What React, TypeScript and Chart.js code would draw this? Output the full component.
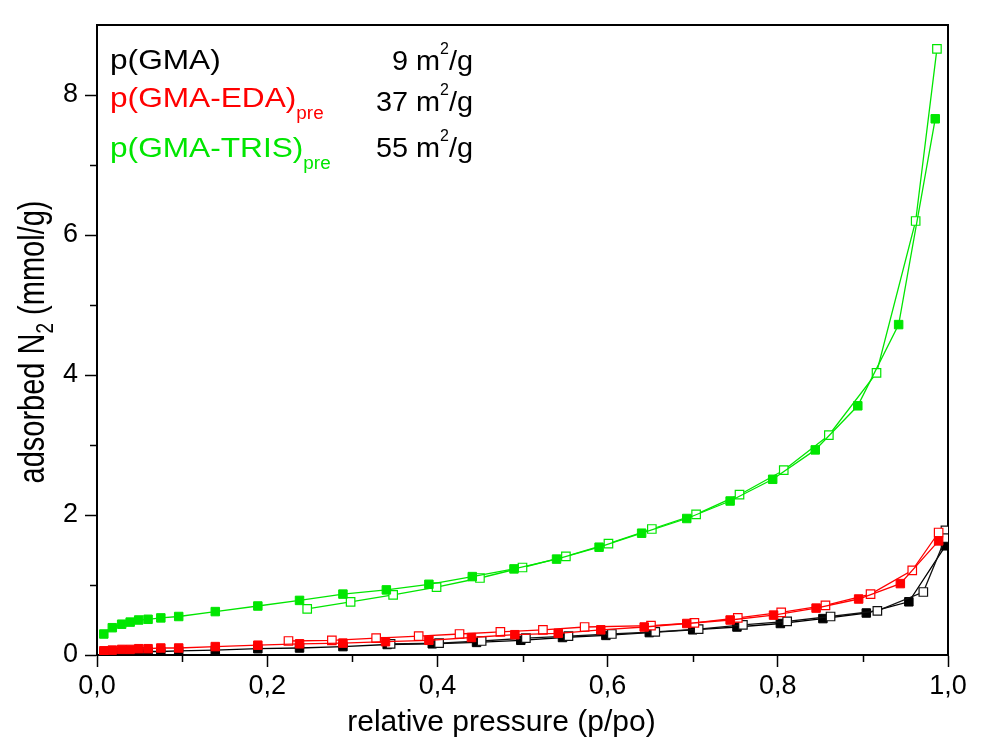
import React, { useEffect, useRef } from 'react';
import { Chart, registerables } from 'chart.js';

Chart.register(...registerables);

// ---------- data ----------
const GMA_ADS_X = [0.008, 0.018, 0.029, 0.039, 0.049, 0.060, 0.075, 0.096, 0.139, 0.189, 0.238, 0.289, 0.341, 0.394, 0.446, 0.498, 0.547, 0.598, 0.649, 0.700, 0.752, 0.803, 0.853, 0.904, 0.954, 0.997];
const GMA_ADS_Y = [0.03, 0.04, 0.04, 0.05, 0.05, 0.05, 0.05, 0.06, 0.07, 0.09, 0.10, 0.12, 0.15, 0.16, 0.18, 0.21, 0.25, 0.28, 0.32, 0.36, 0.40, 0.45, 0.52, 0.60, 0.76, 1.56];
const GMA_DES_X = [0.997, 0.997, 0.971, 0.917, 0.862, 0.811, 0.759, 0.707, 0.656, 0.605, 0.554, 0.504, 0.452, 0.402, 0.345];
const GMA_DES_Y = [1.78, 1.67, 0.90, 0.63, 0.55, 0.48, 0.43, 0.37, 0.33, 0.30, 0.27, 0.24, 0.20, 0.17, 0.16];

const EDA_ADS_X = [0.008, 0.018, 0.029, 0.039, 0.049, 0.060, 0.075, 0.096, 0.139, 0.189, 0.238, 0.289, 0.339, 0.390, 0.440, 0.491, 0.542, 0.592, 0.643, 0.693, 0.744, 0.795, 0.845, 0.895, 0.944, 0.989];
const EDA_ADS_Y = [0.06, 0.07, 0.08, 0.08, 0.09, 0.09, 0.10, 0.10, 0.12, 0.14, 0.16, 0.17, 0.19, 0.21, 0.25, 0.29, 0.31, 0.36, 0.40, 0.45, 0.50, 0.57, 0.67, 0.80, 1.02, 1.63];
const EDA_DES_X = [0.989, 0.958, 0.909, 0.856, 0.804, 0.753, 0.702, 0.651, 0.573, 0.524, 0.474, 0.426, 0.378, 0.328, 0.276, 0.225];
const EDA_DES_Y = [1.75, 1.21, 0.87, 0.71, 0.61, 0.53, 0.46, 0.42, 0.40, 0.36, 0.33, 0.30, 0.27, 0.24, 0.21, 0.20];

const TRIS_ADS_X = [0.008, 0.018, 0.029, 0.039, 0.049, 0.060, 0.075, 0.096, 0.139, 0.189, 0.238, 0.289, 0.340, 0.390, 0.441, 0.490, 0.540, 0.590, 0.640, 0.693, 0.744, 0.794, 0.844, 0.894, 0.942, 0.985];
const TRIS_ADS_Y = [0.30, 0.39, 0.44, 0.47, 0.50, 0.51, 0.53, 0.55, 0.62, 0.70, 0.78, 0.87, 0.93, 1.01, 1.12, 1.23, 1.37, 1.54, 1.74, 1.95, 2.20, 2.51, 2.93, 3.56, 4.72, 7.66];
const TRIS_DES_X = [0.987, 0.962, 0.916, 0.860, 0.807, 0.755, 0.704, 0.652, 0.601, 0.551, 0.500, 0.450, 0.399, 0.348, 0.298, 0.247];
const TRIS_DES_Y = [8.66, 6.20, 4.03, 3.14, 2.64, 2.29, 2.01, 1.80, 1.59, 1.41, 1.25, 1.10, 0.97, 0.86, 0.76, 0.66];

const X_MAJOR_TICKS = [0, 0.2, 0.4, 0.6, 0.8, 1.0];
const X_MINOR_TICKS = [0.1, 0.3, 0.5, 0.7, 0.9];
const Y_MAJOR_TICKS = [0, 2, 4, 6, 8];
const Y_MINOR_TICKS = [1, 3, 5, 7];

const LEGEND_NAMES = ['p(GMA)', 'p(GMA-EDA)', 'p(GMA-TRIS)'];
const LEGEND_SUBS = ['', 'pre', 'pre'];
const SURFACE_AREAS = ['9', '37', '55'];

const X_TITLE = 'relative pressure (p/po)';

// ---------- styles ----------
const BLACK = '#000000';
const RED = '#ff0000';
const GREEN = '#00e600';
const COLORS = [BLACK, RED, GREEN];
const FONT = "'Liberation Sans', Arial, sans-serif";

const pts = (xs: number[], ys: number[]) => xs.map((x, i) => ({ x, y: ys[i] }));

const filled = (label: string, xs: number[], ys: number[], color: string) => ({
  label,
  data: pts(xs, ys),
  borderColor: color,
  backgroundColor: color,
  borderWidth: 1.3,
  pointStyle: 'rect',
  pointRadius: 6,
  pointBackgroundColor: color,
  pointBorderColor: color,
  pointBorderWidth: 1,
  tension: 0,
});

const open = (label: string, xs: number[], ys: number[], color: string) => ({
  label,
  data: pts(xs, ys),
  borderColor: color,
  backgroundColor: '#ffffff',
  borderWidth: 1.3,
  pointStyle: 'rect',
  pointRadius: 6,
  pointBackgroundColor: '#ffffff',
  pointBorderColor: color,
  pointBorderWidth: 1.2,
  tension: 0,
});

type Part = { t: string; size: number; dy: number; sx?: number };

function richWidth(ctx: CanvasRenderingContext2D, parts: Part[]) {
  let w = 0;
  for (const p of parts) {
    ctx.font = `${p.size}px ${FONT}`;
    w += ctx.measureText(p.t).width * (p.sx ?? 1);
  }
  return w;
}

function drawRich(ctx: CanvasRenderingContext2D, x: number, y: number, parts: Part[], color: string) {
  let cx = x;
  ctx.fillStyle = color;
  ctx.textBaseline = 'alphabetic';
  ctx.textAlign = 'left';
  for (const p of parts) {
    const sx = p.sx ?? 1;
    ctx.font = `${p.size}px ${FONT}`;
    ctx.save();
    ctx.translate(cx, y + p.dy);
    ctx.scale(sx, 1);
    ctx.fillText(p.t, 0, 0);
    ctx.restore();
    cx += ctx.measureText(p.t).width * sx;
  }
}

const decorPlugin = {
  id: 'decor',
  beforeDatasetsDraw(chart: any) {
    const { ctx, chartArea } = chart;
    const { left, right, top, bottom } = chartArea;
    const xs = chart.scales.x;
    const ys = chart.scales.y;
    ctx.save();
    ctx.strokeStyle = '#000';
    ctx.lineWidth = 2;
    ctx.strokeRect(left, top, right - left, bottom - top);
    ctx.lineWidth = 1.5;
    ctx.beginPath();
    for (const v of X_MINOR_TICKS) {
      const px = Math.round(xs.getPixelForValue(v)) + 0.5;
      ctx.moveTo(px, bottom);
      ctx.lineTo(px, bottom + 7);
    }
    for (const v of Y_MINOR_TICKS) {
      const py = Math.round(ys.getPixelForValue(v)) + 0.5;
      ctx.moveTo(left, py);
      ctx.lineTo(left - 7, py);
    }
    ctx.stroke();
    ctx.restore();
  },
  afterDraw(chart: any) {
    const { ctx, chartArea } = chart;
    const { left, right, top, bottom } = chartArea;
    ctx.save();
    // legend block
    const nameX = left + 13;
    const baseLeft = [top + 44, top + 82, top + 132];
    const baseRight = [top + 45, top + 86, top + 132];
    const areaRight = left + 376;
    for (let i = 0; i < 3; i++) {
      const parts: Part[] = [{ t: LEGEND_NAMES[i], size: 28, dy: 0, sx: 1.13 }];
      if (LEGEND_SUBS[i]) parts.push({ t: LEGEND_SUBS[i], size: 18, dy: 12, sx: 1.05 });
      drawRich(ctx, nameX, baseLeft[i], parts, COLORS[i]);
      const aParts: Part[] = [
        { t: SURFACE_AREAS[i] + ' m', size: 28, dy: 0, sx: 1.03 },
        { t: '2', size: 16, dy: -16 },
        { t: '/g', size: 28, dy: 0, sx: 1.03 },
      ];
      const w = richWidth(ctx, aParts);
      drawRich(ctx, areaRight - w, baseRight[i], aParts, '#000');
    }
    // x title
    ctx.font = `30px ${FONT}`;
    ctx.fillStyle = '#000';
    ctx.textAlign = 'center';
    ctx.textBaseline = 'alphabetic';
    ctx.fillText(X_TITLE, (left + right) / 2 - 21, 731);
    // y title (rotated), taller glyphs and clipped at the left like the original
    const yParts: Part[] = [
      { t: 'adsorbed N', size: 29, dy: 0 },
      { t: '2', size: 19, dy: 7 },
      { t: ' (mmol/g)', size: 29, dy: 0 },
    ];
    const yw = richWidth(ctx, yParts);
    ctx.beginPath();
    ctx.rect(15, 0, 200, 742);
    ctx.clip();
    ctx.translate(44, (top + bottom) / 2 + 2);
    ctx.rotate(-Math.PI / 2);
    ctx.scale(1, 1.28);
    drawRich(ctx, -yw / 2, 0, yParts, '#000');
    ctx.restore();
  },
};

export default function App() {
  const ref = useRef<HTMLCanvasElement | null>(null);

  useEffect(() => {
    if (!ref.current) return;
    const chart = new Chart(ref.current, {
      type: 'line',
      data: {
        datasets: [
          filled('p(GMA-TRIS) ads', TRIS_ADS_X, TRIS_ADS_Y, GREEN),
          open('p(GMA-TRIS) des', TRIS_DES_X, TRIS_DES_Y, GREEN),
          filled('p(GMA-EDA) ads', EDA_ADS_X, EDA_ADS_Y, RED),
          open('p(GMA-EDA) des', EDA_DES_X, EDA_DES_Y, RED),
          open('p(GMA) des', GMA_DES_X, GMA_DES_Y, '#111111'),
          filled('p(GMA) ads', GMA_ADS_X, GMA_ADS_Y, BLACK),
        ] as any,
      },
      options: {
        animation: false,
        responsive: false,
        maintainAspectRatio: false,
        layout: { padding: { top: 25, right: 34, left: 0, bottom: 0 } },
        plugins: {
          legend: { display: false },
          tooltip: { enabled: false },
        },
        scales: {
          x: {
            type: 'linear',
            min: 0,
            max: 1,
            afterFit: (s: any) => { s.height = 87; },
            afterBuildTicks: (s: any) => { s.ticks = X_MAJOR_TICKS.map((v) => ({ value: v })); },
            border: { display: true, color: '#000', width: 2 },
            grid: { drawOnChartArea: false, drawTicks: true, tickLength: 12, tickColor: '#000', tickWidth: 1.5 },
            ticks: {
              color: '#000',
              font: { family: FONT, size: 27 },
              padding: 3,
              maxRotation: 0,
              callback: (v: any) => Number(v).toFixed(1).replace('.', ','),
            },
          },
          y: {
            type: 'linear',
            min: 0,
            max: 9,
            afterFit: (s: any) => { s.width = 97; },
            afterBuildTicks: (s: any) => { s.ticks = Y_MAJOR_TICKS.map((v) => ({ value: v })); },
            border: { display: true, color: '#000', width: 2 },
            grid: { drawOnChartArea: false, drawTicks: true, tickLength: 12, tickColor: '#000', tickWidth: 1.5 },
            ticks: {
              color: '#000',
              font: { family: FONT, size: 27 },
              padding: 7,
              callback: (v: any) => String(v),
            },
          },
        },
      } as any,
      plugins: [decorPlugin],
    });
    return () => chart.destroy();
  }, []);

  return (
    <div style={{ position: 'fixed', left: 0, top: 0, width: 982, height: 742, background: '#fff' }}>
      <canvas ref={ref} width={982} height={742} style={{ display: 'block' }} />
    </div>
  );
}
